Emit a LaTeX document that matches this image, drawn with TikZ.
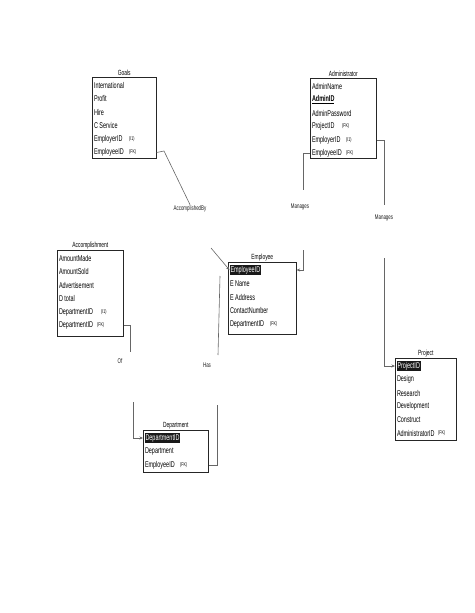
\documentclass[tikz,border=0pt]{standalone}
\usepackage{fontspec}
\usepackage{tikz}
\usetikzlibrary{arrows.meta,calc}
\newfontfamily\erfont[FakeStretch=0.65]{Liberation Sans}

\begin{document}
\begin{tikzpicture}[x=1pt,y=-1pt,
    tbl/.style={draw=black!85, line width=0.6pt, anchor=north west, inner sep=0pt},
    ttl/.style={font=\erfont\fontsize{7.5}{8}\selectfont, anchor=south, inner sep=1.2pt},
    row/.style={font=\erfont\fontsize{8.4}{9}\selectfont, anchor=west, inner sep=0.8pt},
    key/.style={row, fill=black!90, text=white},
    fklab/.style={font=\erfont\fontsize{5.5}{6}\selectfont, anchor=west, inner sep=0pt},
    rel/.style={draw=black!60, line width=0.6pt},
    rlab/.style={font=\erfont\fontsize{6.8}{7}\selectfont, text=black!90, inner sep=1pt},
    >={Stealth[length=3.5pt,width=3pt]}]
    \useasboundingbox (0,0) rectangle (474,613);

    % Goals
    \node[tbl, minimum width=64pt, minimum height=81pt] (goals) at (92,77) {};
    \node[ttl] (goalsT) at (goals.north) {Goals};
    \node[row] (g1) at (93,85) {International};
    \node[row] (g2) at (93,98.5) {Profit};
    \node[row] (g3) at (93,112) {Hire};
    \node[row] (g4) at (93,125.5) {C Service};
    \node[row] (g5) at (93,139) {EmployerID};
    \node[row] (g6) at (93,152.5) {EmployeeID};
    \node[fklab] (g5k) at (129,139) {(I1)};
    \node[fklab] (g6k) at (129,152.5) {(FK)};

    % Administrator
    \node[tbl, minimum width=66pt, minimum height=80pt] (admin) at (310,78) {};
    \node[ttl] (adminT) at (admin.north) {Administrator};
    \node[row] (a1) at (311,86) {AdminName};
    \node[row] (a2) at (311,99.5) {\bfseries\underline{AdminID}};
    \node[row] (a3) at (311,113) {AdminPassword};
    \node[row] (a4) at (311,126.5) {ProjectID};
    \node[row] (a5) at (311,140) {EmployerID};
    \node[row] (a6) at (311,153.5) {EmployeeID};
    \node[fklab] (a4k) at (342,126.5) {(FK)};
    \node[fklab] (a5k) at (346,140) {(I1)};
    \node[fklab] (a6k) at (346,153.5) {(FK)};

    % Employee
    \node[tbl, minimum width=68pt, minimum height=72pt] (emp) at (228,262) {};
    \node[ttl] (empT) at (emp.north) {Employee};
    \node[key] (e1) at (229.5,270) {EmployeeID};
    \node[row] (e2) at (229,283.5) {E Name};
    \node[row] (e3) at (229,297) {E Address};
    \node[row] (e4) at (229,310.5) {ContactNumber};
    \node[row] (e5) at (229,324) {DepartmentID};
    \node[fklab] (e5k) at (270,324) {(FK)};

    % Accomplishment
    \node[tbl, minimum width=66pt, minimum height=86pt] (acc) at (57,250) {};
    \node[ttl] (accT) at (acc.north) {Accomplishment};
    \node[row] (c1) at (58,258) {AmountMade};
    \node[row] (c2) at (58,271.5) {AmountSold};
    \node[row] (c3) at (58,285) {Advertisement};
    \node[row] (c4) at (58,298.5) {D total};
    \node[row] (c5) at (58,312) {DepartmentID};
    \node[row] (c6) at (58,325.5) {DepartmentID};
    \node[fklab] (c5k) at (101,312) {(I1)};
    \node[fklab] (c6k) at (97,325.5) {(FK)};

    % Department
    \node[tbl, minimum width=65pt, minimum height=42pt] (dept) at (143,430) {};
    \node[ttl] (deptT) at (dept.north) {Department};
    \node[key] (d1) at (144.5,438) {DepartmentID};
    \node[row] (d2) at (144,451.5) {Department};
    \node[row] (d3) at (144,465) {EmployeeID};
    \node[fklab] (d3k) at (180,465) {(FK)};

    % Project
    \node[tbl, minimum width=61pt, minimum height=82pt] (proj) at (395,358) {};
    \node[ttl] (projT) at (proj.north) {Project};
    \node[key] (p1) at (396.5,366) {ProjectID};
    \node[row] (p2) at (396,379.5) {Design};
    \node[row] (p3) at (396,393) {Research};
    \node[row] (p4) at (396,406.5) {Development};
    \node[row] (p5) at (396,420) {Construct};
    \node[row] (p6) at (396,433.5) {AdministratorID};
    \node[fklab] (p6k) at (438,433.5) {(FK)};

    % AccomplishedBy
    \coordinate (ab1) at (164,151);
    \coordinate (ab2) at (211,248);
    \node[rlab] (accby) at (190,209) {AccomplishedBy};
    \draw[rel] (goals.east |- g6) -- (ab1) -- (accby.north);
    \draw[rel,->] (ab2) -- (e1.west);

    % Manages (Employee)
    \coordinate (ml1) at (303,153.5);
    \coordinate (ml2) at (303,190);
    \coordinate (ml3) at (303,250);
    \node[rlab] (mgl) at (300,207) {Manages};
    \draw[rel] (admin.west |- a6) -- (ml1) -- (ml2);
    \draw[rel,->] (ml3) |- (emp.east |- e1);

    % Manages (Project)
    \coordinate (mr1) at (384,205);
    \coordinate (mr2) at (384,258);
    \node[rlab] (mgr) at (384,218) {Manages};
    \draw[rel] (admin.east |- a5) -| (mr1);
    \draw[rel,->] (mr2) |- (proj.west |- p1);

    % Of
    \coordinate (of1) at (130,352);
    \coordinate (of2) at (133,402);
    \node[rlab] (ofl) at (120,361) {Of};
    \draw[rel] (acc.east |- c6) -| (of1);
    \draw[rel,->] (of2) |- (dept.west |- d1);

    % Has
    \coordinate (has1) at (217,405);
    \coordinate (has2) at (218,355);
    \coordinate (has3) at (220,276);
    \node[rlab] (hasl) at (207,365) {Has};
    \draw[rel] (dept.east |- d3) -| (has1);
    \draw[rel] (has2) -- (has3);
\end{tikzpicture}
\end{document}
